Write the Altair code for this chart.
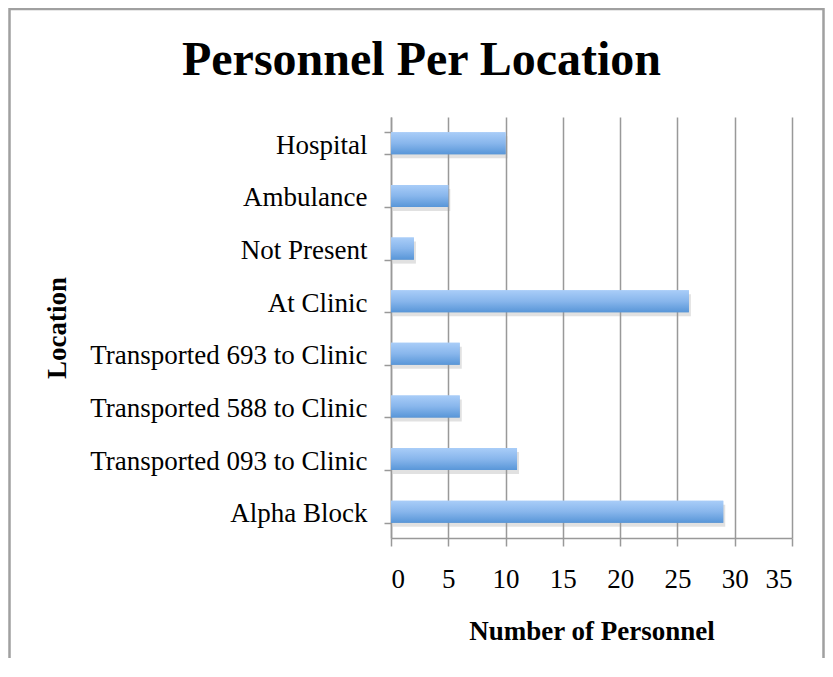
import altair as alt
import pandas as pd

categories = ["Hospital", "Ambulance", "Not Present", "At Clinic",
              "Transported 693 to Clinic", "Transported 588 to Clinic",
              "Transported 093 to Clinic", "Alpha Block"]
values = [10, 5, 2, 26, 6, 6, 11, 29]
x_ticks = [0, 5, 10, 15, 20, 25, 30, 35]

df = pd.DataFrame({"Location": categories, "Personnel": values})

FONT = "Liberation Serif"
W, H = 401, 421
LFS = 27

gradient = alt.LinearGradient(
    gradient="linear",
    stops=[alt.GradientStop(offset=0, color="#a9cdf8"),
           alt.GradientStop(offset=0.5, color="#88b6ec"),
           alt.GradientStop(offset=1, color="#5896d8")],
    x1=0, x2=0, y1=0, y2=1)

yscale = alt.Scale(domain=categories, paddingInner=0.58, paddingOuter=0.29)
xscale = alt.Scale(domain=[0, 35], nice=False)

xenc = alt.X("Personnel:Q", scale=xscale,
             axis=alt.Axis(values=x_ticks, title="Number of Personnel",
                           labelFont=FONT, labelFontSize=LFS, labelColor="black",
                           labelPadding=20, tickSize=8, tickColor="#999999",
                           tickWidth=1.5, domainColor="#999999", domainWidth=1.5,
                           gridColor="#999999", gridWidth=1.5,
                           titleFont=FONT, titleFontSize=LFS, titleFontWeight="bold",
                           titleColor="black", titlePadding=26))
yenc = alt.Y("Location:N", scale=yscale, sort=categories,
             axis=alt.Axis(title="Location", tickBand="extent", grid=False,
                           labelFont=FONT, labelFontSize=LFS, labelColor="black",
                           labelPadding=17, labelLimit=0, labelOffset=2, tickSize=7,
                           tickColor="#999999",
                           tickWidth=1.5, domainColor="#999999", domainWidth=1.5,
                           titleFont=FONT, titleFontSize=LFS, titleFontWeight="bold",
                           titleColor="black", titleAngle=-90,
                           titleX=-334, titleY=H / 2, titleAlign="center",
                           titleBaseline="middle"))

base = alt.Chart(df)

shadow = base.mark_bar(color="#9a9a9a", opacity=0.3, yOffset=4, xOffset=2).encode(
    x=xenc, y=yenc)

bars = base.mark_bar(fill=gradient).encode(x=xenc, y=yenc)

border = alt.Chart(pd.DataFrame({"a": [0]})).mark_rect(
    fill=None, stroke="#a0a0a0", strokeWidth=2.5).encode(
    x=alt.value(-381.5), x2=alt.value(432.5),
    y=alt.value(-108), y2=alt.value(560))

chart = alt.layer(bars, shadow, bars, border).properties(
    width=W, height=H,
    title=alt.TitleParams("Personnel Per Location", font=FONT, fontSize=48,
                          fontWeight="bold", color="black", anchor="middle",
                          dx=-170, dy=77, offset=0),
    autosize=alt.AutoSizeParams(type="none"),
    padding={"left": 383, "top": 109, "right": 33, "bottom": 120},
).configure_view(stroke=None)

chart.save("out.html", embed_options={"renderer": "svg", "actions": False})
